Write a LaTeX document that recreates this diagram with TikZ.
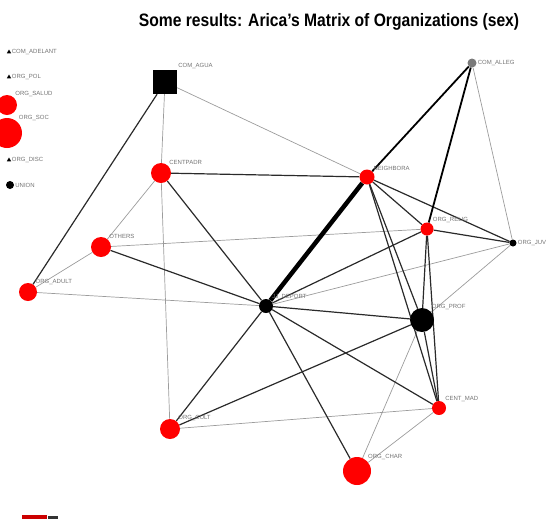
\documentclass[tikz,border=0pt]{standalone}
\usepackage{fontspec}
\setsansfont{Liberation Sans}
\usetikzlibrary{shapes.geometric, backgrounds}
\definecolor{orgred}{HTML}{FF0000}
\definecolor{linkgray}{HTML}{9C9C9C}
\definecolor{linkdark}{HTML}{2A2A2A}
\definecolor{comgray}{HTML}{7A7A7A}

\begin{document}
\begin{tikzpicture}[x=1pt, y=-1pt,
  org/.style={circle, fill=orgred, inner sep=0pt},
  blk/.style={circle, fill=black, inner sep=0pt},
  tri/.style={regular polygon, regular polygon sides=3, fill=black, inner sep=0pt, minimum size=5pt},
  lbl/.style={font=\sffamily\fontsize{6}{7}\selectfont, text=black!55, inner sep=1pt},
  weak/.style={linkgray, line width=0.7pt},
  strong/.style={linkdark, line width=1.2pt},
  title/.style={font=\sffamily\bfseries\fontsize{18}{20}\selectfont},
]
\useasboundingbox (0,0) rectangle (548,523);

\node[title] (title) at (329,22) {\scalebox{0.87}[1]{Some results: Arica's Matrix of Organizations (sex)}};

% legend
\node[tri] (adelant) at (9,52) {};
\node[lbl, right] at (adelant.east) {COM\_ADELANT};
\node[tri] (pol) at (9,77) {};
\node[lbl, right] at (pol.east) {ORG\_POL};
\node[org, minimum size=20pt, label={[lbl]north east:ORG\_SALUD}] (salud) at (7,105) {};
\node[org, minimum size=30pt, label={[lbl]north east:ORG\_SOC}] (soc) at (7,133) {};
\node[tri] (disc) at (9,160) {};
\node[lbl, right] at (disc.east) {ORG\_DISC};
\node[blk, minimum size=8pt] (union) at (10,185) {};
\node[lbl, right] at (union.east) {UNION};

% network
\node[rectangle, fill=black, minimum size=24pt, inner sep=0pt, label={[lbl]north east:COM\_AGUA}] (agua) at (165,82) {};
\node[circle, fill=comgray, minimum size=9pt, inner sep=0pt, label={[lbl]east:COM\_ALLEG}] (alleg) at (472,63) {};
\node[org, minimum size=15pt, label={[lbl]north east:NEIGHBORA}] (neigh) at (367,177) {};
\node[org, minimum size=20pt, label={[lbl]north east:CENTPADR}] (centpadr) at (161,173) {};
\node[org, minimum size=20pt, label={[lbl]north east:OTHERS}] (others) at (101,247) {};
\node[org, minimum size=18pt, label={[lbl]north east:ORG\_ADULT}] (adult) at (28,292) {};
\node[org, minimum size=13pt, label={[lbl]north east:ORG\_RELIG}] (relig) at (427,229) {};
\node[blk, minimum size=7pt, label={[lbl]east:ORG\_JUV}] (juv) at (513,243) {};
\node[blk, minimum size=14pt, label={[lbl]north east:JJ\_DEPORT}] (deport) at (266,306) {};
\node[blk, minimum size=24pt, label={[lbl]north east:ORG\_PROF}] (prof) at (422,320) {};
\node[org, minimum size=14pt, label={[lbl]north east:CENT\_MAD}] (centmad) at (439,408) {};
\node[org, minimum size=20pt, label={[lbl]north east:ORG\_CULT}] (cult) at (170,429) {};
\node[org, minimum size=28pt, label={[lbl]north east:ORG\_CHAR}] (char) at (357,471) {};

\begin{scope}[on background layer]
\draw[weak] (agua) -- (centpadr);
\draw[weak] (agua) -- (neigh);
\draw[weak] (alleg) -- (juv);
\draw[weak] (centpadr) -- (others);
\draw[weak] (centpadr) -- (cult);
\draw[weak] (others) -- (adult);
\draw[weak] (others) -- (relig);
\draw[weak] (adult) -- (deport);
\draw[weak] (deport) -- (juv);
\draw[weak] (juv) -- (prof);
\draw[weak] (cult) -- (centmad);
\draw[weak] (char) -- (prof);
\draw[weak] (char) -- (centmad);

\draw[strong] (agua) -- (adult);
\draw[strong] (centpadr) -- (neigh);
\draw[strong] (centpadr) -- (deport);
\draw[strong] (others) -- (deport);
\draw[strong] (neigh) -- (relig);
\draw[strong] (neigh) -- (juv);
\draw[strong] (neigh) -- (prof);
\draw[strong] (neigh) -- (centmad);
\draw[strong] (relig) -- (juv);
\draw[strong] (relig) -- (deport);
\draw[strong] (relig) -- (prof);
\draw[strong] (relig) -- (centmad);
\draw[strong] (deport) -- (prof);
\draw[strong] (deport) -- (cult);
\draw[strong] (deport) -- (centmad);
\draw[strong] (deport) -- (char);
\draw[strong] (cult) -- (prof);
\draw[strong] (prof) -- (centmad);

\draw[black, line width=1.8pt] (alleg) -- (neigh);
\draw[black, line width=1.8pt] (alleg) -- (relig);
\draw[black, line width=4.5pt] (neigh) -- (deport);
\end{scope}

% logo strip
\fill[orgred!80!black] (22,515) rectangle (47,519);
\fill[black!80] (48,516) rectangle (58,519);

\end{tikzpicture}
\end{document}
